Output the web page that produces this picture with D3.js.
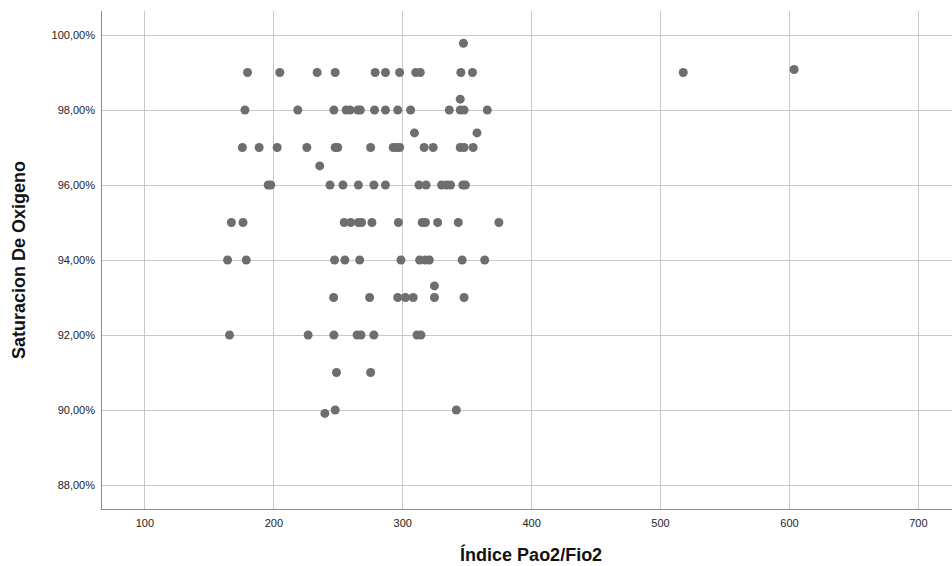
<!DOCTYPE html>
<html>
<head>
<meta charset="utf-8">
<script src="https://cdn.jsdelivr.net/npm/d3@7"></script>
<style>
	body { margin: 0; background: #fff; }
	text { font-family: "Liberation Sans", Arial, sans-serif; }
</style>
</head>
<body>
<div id="chart-area"></div>
<script>

// Indice Pao2/Fio2 (x) and Saturacion De Oxigeno (y), one entry per patient
let pafi = [
	347.5,
	180, 205, 234, 248, 279, 287, 298, 310.5, 314, 345.5, 354.5, 518, 604,
	345,
	178, 219, 247, 256.5, 259.5, 265.5, 267.5, 278.5, 287, 296.5, 306.5, 336.5, 345, 348, 366,
	309.5, 358,
	176, 189, 203, 226, 248, 250, 275.5, 293, 296, 298, 317, 324, 345, 348, 355,
	236,
	196, 198, 244, 254, 266, 278, 287, 313, 318.5, 330.5, 334.5, 337.5, 347, 349,
	167.5, 176.5, 255, 260, 266, 268.5, 276.5, 297, 315.5, 318, 327.5, 343.5, 375,
	164.5, 179, 247.5, 255.5, 267, 299, 313.5, 318, 321, 346.5, 364,
	325,
	246.8, 274.7, 296.5, 302.5, 308.5, 325, 348,
	166, 227, 247, 265, 268, 278, 311.5, 314.5,
	249, 275.5,
	248, 342,
	240
];
let spo2 = [
	99.78,
	99, 99, 99, 99, 99, 99, 99, 99, 99, 99, 99, 99, 99.08,
	98.29,
	98, 98, 98, 98, 98, 98, 98, 98, 98, 98, 98, 98, 98, 98, 98,
	97.39, 97.39,
	97, 97, 97, 97, 97, 97, 97, 97, 97, 97, 97, 97, 97, 97, 97,
	96.51,
	96, 96, 96, 96, 96, 96, 96, 96, 96, 96, 96, 96, 96, 96,
	95, 95, 95, 95, 95, 95, 95, 95, 95, 95, 95, 95, 95,
	94, 94, 94, 94, 94, 94, 94, 94, 94, 94, 94,
	93.31,
	93, 93, 93, 93, 93, 93, 93,
	92, 92, 92, 92, 92, 92, 92, 92,
	91, 91,
	90, 90,
	89.91
];

let xTicks = [100, 200, 300, 400, 500, 600, 700];
let yTicks = [88, 90, 92, 94, 96, 98, 100];

let data = pafi.map((d, i) => ({x: d, y: spo2[i]}));

let margin = {top: 11, right: 0, bottom: 57, left: 102};
let width = 952 - margin.left - margin.right;
let height = 566 - margin.top - margin.bottom;

let svg = d3.select("#chart-area").append("svg")
		.attr("width", 952)
		.attr("height", 566)
	.append("g")
		.attr("transform", "translate(" + margin.left + "," + margin.top + ")");

let xscale = d3.scaleLinear().domain([67.1, 726.5]).range([0, width]);
let yscale = d3.scaleLinear().domain([87.36, 100.64]).range([height, 0]);

// gridlines
svg.append("g").selectAll("line.gx")
	.data(xTicks)
	.enter().append("line")
	.attr("x1", d => Math.round(xscale(d)) + 0.5)
	.attr("x2", d => Math.round(xscale(d)) + 0.5)
	.attr("y1", 0)
	.attr("y2", height)
	.attr("stroke", "#c9c9c9")
	.attr("stroke-width", 1);

svg.append("g").selectAll("line.gy")
	.data(yTicks)
	.enter().append("line")
	.attr("x1", 0)
	.attr("x2", width)
	.attr("y1", d => Math.round(yscale(d)) + 0.5)
	.attr("y2", d => Math.round(yscale(d)) + 0.5)
	.attr("stroke", "#c9c9c9")
	.attr("stroke-width", 1);

// Axes
let xAxis = d3.axisBottom(xscale).tickValues(xTicks).tickSize(0).tickPadding(10);
let yAxis = d3.axisLeft(yscale).tickValues(yTicks).tickSize(0).tickPadding(7)
	.tickFormat(d => d3.format(".2f")(d).replace(".", ",") + "%");

let xAxisGroup = svg.append("g").attr("class", "axis x-axis")
	.attr("transform", "translate(0," + height + ")")
	.call(xAxis);
let yAxisGroup = svg.append("g").attr("class", "axis y-axis")
	.call(yAxis);

svg.selectAll(".axis .domain").remove();
svg.selectAll(".axis text")
	.attr("font-family", "'Liberation Sans', Arial, sans-serif")
	.attr("font-size", 11)
	.attr("fill", "#222");

svg.append("line")
	.attr("x1", 0).attr("x2", width)
	.attr("y1", height + 0.5).attr("y2", height + 0.5)
	.attr("stroke", "#8a8a8a");
svg.append("line")
	.attr("x1", -0.5).attr("x2", -0.5)
	.attr("y1", 0).attr("y2", height + 1)
	.attr("stroke", "#8a8a8a");

// points
svg.append("g").selectAll("circle")
	.data(data)
	.enter().append("circle")
	.attr("cx", d => xscale(d.x))
	.attr("cy", d => yscale(d.y))
	.attr("r", 4.5)
	.attr("fill", "#6e6e6e");

// axis titles
svg.append("text")
	.attr("x", xscale(400))
	.attr("y", height + 52)
	.attr("text-anchor", "middle")
	.attr("font-size", 18)
	.attr("font-weight", "bold")
	.attr("fill", "#111")
	.text("Índice Pao2/Fio2");

svg.append("text")
	.attr("transform", "translate(" + (-77) + "," + yscale(94) + ") rotate(-90)")
	.attr("text-anchor", "middle")
	.attr("font-size", 18)
	.attr("font-weight", "bold")
	.attr("fill", "#111")
	.text("Saturacion De Oxigeno");

</script>
</body>
</html>
